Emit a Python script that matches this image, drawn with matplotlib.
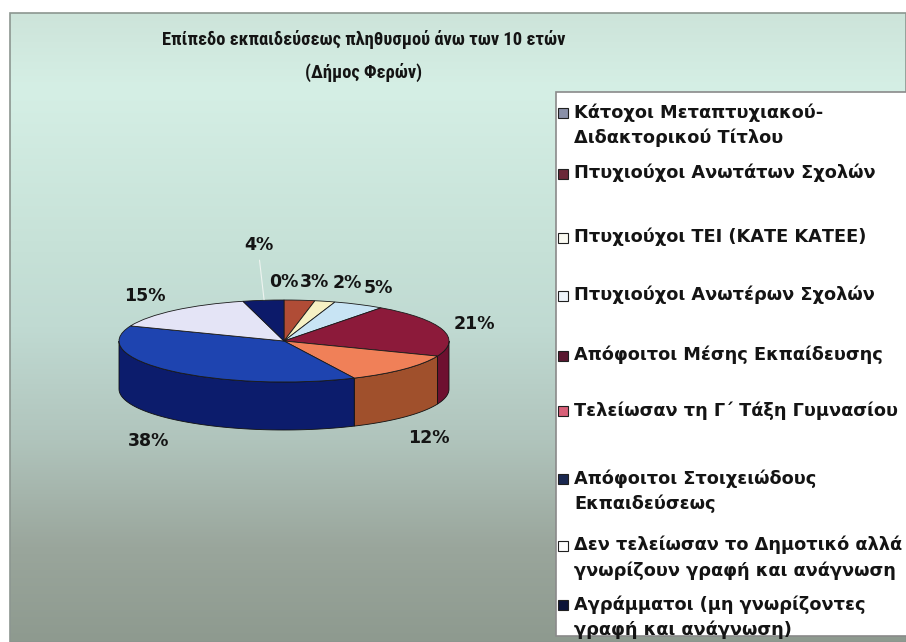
import numpy as np
import matplotlib
matplotlib.use("Agg")
import matplotlib.pyplot as plt
from matplotlib import font_manager as fm
from matplotlib.patches import Polygon, Rectangle
from matplotlib.colors import LinearSegmentedColormap

# ---------------- data ----------------
categories = [
    "Κάτοχοι Μεταπτυχιακού-\nΔιδακτορικού Τίτλου",
    "Πτυχιούχοι Ανωτάτων Σχολών",
    "Πτυχιούχοι ΤΕΙ (ΚΑΤΕ ΚΑΤΕΕ)",
    "Πτυχιούχοι Ανωτέρων Σχολών",
    "Απόφοιτοι Μέσης Εκπαίδευσης",
    "Τελείωσαν τη Γ΄ Τάξη Γυμνασίου",
    "Απόφοιτοι Στοιχειώδους\nΕκπαιδεύσεως",
    "Δεν τελείωσαν το Δημοτικό αλλά\nγνωρίζουν γραφή και ανάγνωση",
    "Αγράμματοι (μη γνωρίζοντες\nγραφή και ανάγνωση)",
]
values = [0, 3, 2, 5, 21, 12, 38, 15, 4]
pct_labels = ["0%", "3%", "2%", "5%", "21%", "12%", "38%", "15%", "4%"]
title_text = "Επίπεδο εκπαιδεύσεως πληθυσμού άνω των 10 ετών\n(Δήμος Φερών)"

# ---------------- styles ----------------
slice_colors = ["#9a9ac8", "#b04c36", "#f6f1c4", "#c8e4f4", "#8c1a3a",
                "#f08058", "#1e44b0", "#e4e4f6", "#0c1a6a"]
side_colors = ["#6a6a90", "#7a3422", "#c8c090", "#90b0c4", "#6e1030",
               "#a0502c", "#0c1c6c", "#a8a8c0", "#060e44"]
legend_colors = ["#8a90a8", "#6a2838", "#fafaf2", "#eef4fa", "#5a1830",
                 "#d86078", "#1a2850", "#ffffff", "#0c1438"]

avail = {f.name for f in fm.fontManager.ttflist}
title_family = next((n for n in ["Liberation Sans Narrow", "DejaVu Sans Condensed",
                                 "Roboto Condensed"] if n in avail), "Liberation Sans")

W, H = 906, 642
fig = plt.figure(figsize=(W / 100, H / 100), dpi=100)
fig.patch.set_facecolor("white")
renderer = fig.canvas.get_renderer()


def fx(px):
    return px / W


def fy(py):
    return 1 - py / H


# background panel with vertical gradient
bg = fig.add_axes([fx(10), 0, 1 - fx(10), fy(13)])
cmap = LinearSegmentedColormap.from_list(
    "bg",
    [(0.0, "#8e9a8f"), (0.15, "#9aa69c"), (0.32, "#b0c4bc"), (0.5, "#c0dad2"),
     (0.62, "#c6e1d7"), (0.88, "#d5efe5"), (1.0, "#cde4da")])
grad = np.linspace(0, 1, 256).reshape(-1, 1)
bg.imshow(grad, aspect="auto", cmap=cmap, origin="lower", extent=[0, 1, 0, 1])
bg.set_xlim(0, 1)
bg.set_ylim(0, 1)
bg.axis("off")
fig.patches.append(Rectangle((fx(10), 0), 1 - fx(10), fy(13), transform=fig.transFigure,
                             fill=False, edgecolor="#8c9690", linewidth=1.2, zorder=1))

# title (condensed bold, limited to roughly the reference width)
title = fig.text(fx(364), fy(56), title_text, ha="center", va="center", fontsize=14,
                 fontweight="bold", linespacing=1.9, color="#141414",
                 family=[title_family, "DejaVu Sans"])
w_now = title.get_window_extent(renderer=renderer).width
title.set_fontsize(14 * min(1.0, max(0.95, 400 / w_now)))

# ---------------- pseudo 3D pie ----------------
cx, cy, rx, ry, thick = 284, 341, 165, 41, 48
top_px, bot_px = 230, 470
ax = fig.add_axes([fx(cx - 1.6 * rx), fy(bot_px), 3.2 * rx / W, (bot_px - top_px) / H])
wedges, _ = ax.pie(values, colors=slice_colors, startangle=90, counterclock=False,
                   radius=1, wedgeprops=dict(edgecolor="#1a1a1a", linewidth=0.6))
ax.set_aspect("auto")
ax.set_xlim(-1.6, 1.6)
ax.set_ylim(-(bot_px - cy) / ry, (cy - top_px) / ry)
ax.axis("off")
d = thick / ry

for w, sc in zip(wedges, side_colors):
    w.set_zorder(3)
    t1, t2 = w.theta1, w.theta2
    for k in range(-2, 3):
        a = max(t1, 180 + 360 * k)
        b = min(t2, 360 + 360 * k)
        if b - a <= 0:
            continue
        t = np.radians(np.linspace(a, b, 60))
        top = np.column_stack([np.cos(t), np.sin(t)])
        bot = np.column_stack([np.cos(t[::-1]), np.sin(t[::-1]) - d])
        ax.add_patch(Polygon(np.vstack([top, bot]), closed=True, facecolor=sc,
                             edgecolor="#101010", linewidth=0.6, zorder=2))

# percentage labels (Excel-like placement; small slices nudged sideways in pixels)
lift = {8: 0.9}
nudge_px = {1: 12, 2: 14, 3: 4, 7: -8}
for i, (w, lab) in enumerate(zip(wedges, pct_labels)):
    m = np.radians((w.theta1 + w.theta2) / 2)
    lx = 1.2 * np.cos(m) + nudge_px.get(i, 0) / rx
    if np.sin(m) >= 0:
        ly = 1.45 * np.sin(m)
    else:
        ly = 1.75 * np.sin(m) - d
    if i in lift:
        ax.annotate("", xy=(np.cos(m) * 0.95, np.sin(m) * 0.95), xytext=(lx, ly + lift[i] - 0.3),
                    arrowprops=dict(arrowstyle="-", color="#eef4f0", lw=0.8), zorder=4)
        ly += lift[i]
    ax.text(lx, ly, lab, ha="center", va="center", fontsize=12.5, fontweight="bold",
            color="#141414", family=["DejaVu Sans"], zorder=5)

# ---------------- legend ----------------
fig.patches.append(Rectangle((fx(556), fy(636)), 1 - fx(556) + 0.01, fy(92) - fy(636),
                             transform=fig.transFigure, facecolor="white",
                             edgecolor="#8a8a8a", linewidth=1.2, zorder=2))
first_line_y = [113, 174, 238, 296, 356, 411, 479, 546, 605]
for yl, lab, col in zip(first_line_y, categories, legend_colors):
    fig.patches.append(Rectangle((fx(558), fy(yl + 5)), 10 / W, 10 / H,
                                 transform=fig.transFigure, facecolor=col,
                                 edgecolor="#202020", linewidth=0.8, zorder=3))
    fig.text(fx(574), fy(yl - 10), lab, ha="left", va="top", fontsize=12.8,
             fontweight="bold", linespacing=1.45, color="#141414",
             family=["DejaVu Sans"], zorder=4)

fig.savefig("out.png", dpi=100)
